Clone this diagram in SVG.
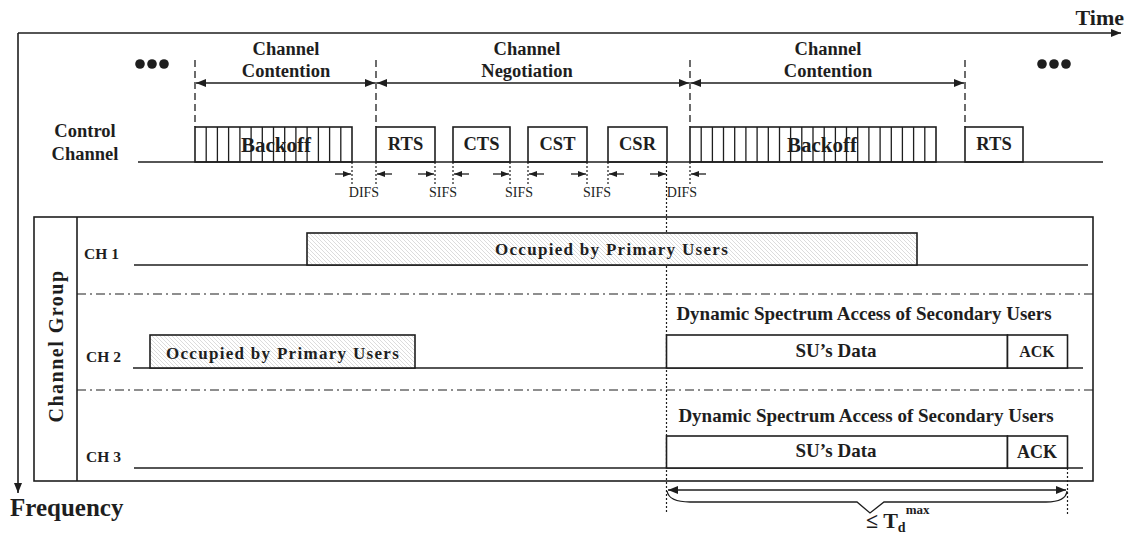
<svg xmlns="http://www.w3.org/2000/svg" width="1130" height="543" viewBox="0 0 1130 543">
<style>
text{font-family:"Liberation Serif","Times New Roman",serif;fill:#1e1e1e}
.b{font-weight:bold}
.ln{stroke:#1e1e1e;stroke-width:1.6;fill:none}
.box{stroke:#1e1e1e;stroke-width:1.6;fill:#fff}
.hb{stroke:#1e1e1e;stroke-width:1.6;fill:url(#hatch)}
.dash{stroke:#1e1e1e;stroke-width:1.3;stroke-dasharray:7 4;fill:none}
.dot{stroke:#1e1e1e;stroke-width:1.2;stroke-dasharray:2 2;fill:none}
.dd{stroke:#1e1e1e;stroke-width:1.2;stroke-dasharray:9 4 2 4;fill:none}
.st{stroke:#1e1e1e;stroke-width:1.3;fill:none}
.ar{stroke:#1e1e1e;stroke-width:1.3;fill:none}
</style>
<defs>
<pattern id="hatch" width="4" height="4" patternUnits="userSpaceOnUse">
<rect width="4" height="4" fill="#fff"/>
<path d="M0,0 L4,4 M-1,3 L1,5 M3,-1 L5,1" stroke="#c4c4c4" stroke-width="0.6"/>
</pattern>
<marker id="ah" viewBox="0 0 10 8" refX="10" refY="4" markerWidth="10" markerHeight="8" markerUnits="userSpaceOnUse" orient="auto-start-reverse">
<path d="M0,0 L10,4 L0,8 z" fill="#1e1e1e"/>
</marker>
<marker id="as" viewBox="0 0 8 6" refX="8" refY="3" markerWidth="8" markerHeight="6" markerUnits="userSpaceOnUse" orient="auto-start-reverse">
<path d="M0,0 L8,3 L0,6 z" fill="#1e1e1e"/>
</marker>
</defs>
<rect width="1130" height="543" fill="#fff"/>

<g id="axes">
<path class="ln" d="M18,33 L1121,33" marker-end="url(#ah)"/>
<path class="ln" d="M18,33 L18,493" marker-end="url(#ah)"/>
<text class="b" x="1124" y="25" font-size="22" text-anchor="end">Time</text>
<text class="b" x="10" y="516" font-size="25">Frequency</text>
</g>

<g id="dots">
<circle cx="140" cy="64" r="4.8" fill="#1e1e1e"/>
<circle cx="152" cy="64" r="4.8" fill="#1e1e1e"/>
<circle cx="164" cy="64" r="4.8" fill="#1e1e1e"/>
<circle cx="1042" cy="64" r="4.8" fill="#1e1e1e"/>
<circle cx="1054" cy="64" r="4.8" fill="#1e1e1e"/>
<circle cx="1066" cy="64" r="4.8" fill="#1e1e1e"/>
</g>

<g id="phase-labels">
<text class="b" x="286" y="55" font-size="18.5" text-anchor="middle">Channel</text>
<text class="b" x="286" y="77" font-size="18.5" text-anchor="middle">Contention</text>
<text class="b" x="527" y="55" font-size="18.5" text-anchor="middle">Channel</text>
<text class="b" x="527" y="77" font-size="18.5" text-anchor="middle">Negotiation</text>
<text class="b" x="828" y="55" font-size="18.5" text-anchor="middle">Channel</text>
<text class="b" x="828" y="77" font-size="18.5" text-anchor="middle">Contention</text>
</g>

<g id="control-label">
<text class="b" x="85" y="137" font-size="18.5" text-anchor="middle">Control</text>
<text class="b" x="85" y="160" font-size="18.5" text-anchor="middle">Channel</text>
</g>

<g id="backoff1">
<rect class="box" x="195" y="127" width="157" height="35"/>
<text class="b" x="276" y="152" font-size="21" text-anchor="middle">Backoff</text>
<path class="st" d="M206.2,127V162M217.4,127V162M228.6,127V162M239.9,127V162M251.1,127V162M262.3,127V162M273.5,127V162M284.7,127V162M295.9,127V162M307.1,127V162M318.4,127V162M329.6,127V162M340.8,127V162"/>
</g>
<g id="rts1">
<rect class="box" x="376" y="127" width="59" height="35"/>
<text class="b" x="405.5" y="150" font-size="18.5" text-anchor="middle">RTS</text>
</g>
<g id="cts">
<rect class="box" x="453" y="127" width="57" height="35"/>
<text class="b" x="481.5" y="150" font-size="18.5" text-anchor="middle">CTS</text>
</g>
<g id="cst">
<rect class="box" x="528" y="127" width="59" height="35"/>
<text class="b" x="557.5" y="150" font-size="18.5" text-anchor="middle">CST</text>
</g>
<g id="csr">
<rect class="box" x="608" y="127" width="59" height="35"/>
<text class="b" x="637.5" y="150" font-size="18.5" text-anchor="middle">CSR</text>
</g>
<g id="backoff2">
<rect class="box" x="690" y="127" width="246" height="35"/>
<text class="b" x="822" y="152" font-size="21" text-anchor="middle">Backoff</text>
<path class="st" d="M701.2,127V162M712.4,127V162M723.5,127V162M734.7,127V162M745.9,127V162M757.1,127V162M768.3,127V162M779.5,127V162M790.6,127V162M801.8,127V162M813,127V162M824.2,127V162M835.4,127V162M846.5,127V162M857.7,127V162M868.9,127V162M880.1,127V162M891.3,127V162M902.4,127V162M913.6,127V162M924.8,127V162"/>
</g>
<g id="rts2">
<rect class="box" x="965" y="127" width="58" height="35"/>
<text class="b" x="994" y="150" font-size="18.5" text-anchor="middle">RTS</text>
</g>

<g id="connectors">
<path class="ln" d="M138,162 L1103,162"/>
<path class="dash" d="M195,60V127M376,60V127M690,60V127M965,60V127"/>
<path class="ar" d="M196,83H375" marker-start="url(#ah)" marker-end="url(#ah)"/>
<path class="ar" d="M377,83H689" marker-start="url(#ah)" marker-end="url(#ah)"/>
<path class="ar" d="M691,83H964" marker-start="url(#ah)" marker-end="url(#ah)"/>
<path class="dot" d="M352,162V184M376,162V184M435,162V184M453,162V184M510,162V184M528,162V184M587,162V184M608,162V184M690,162V184"/>
<path class="dot" d="M666.5,162V514M1067.5,468V514"/>
<path class="ar" d="M335,174H351" marker-end="url(#as)"/>
<path class="ar" d="M392,174H377" marker-end="url(#as)"/>
<path class="ar" d="M418,174H434" marker-end="url(#as)"/>
<path class="ar" d="M469,174H454" marker-end="url(#as)"/>
<path class="ar" d="M493,174H509" marker-end="url(#as)"/>
<path class="ar" d="M544,174H529" marker-end="url(#as)"/>
<path class="ar" d="M571,174H586" marker-end="url(#as)"/>
<path class="ar" d="M624,174H609" marker-end="url(#as)"/>
<path class="ar" d="M650,174H666" marker-end="url(#as)"/>
<path class="ar" d="M706,174H691" marker-end="url(#as)"/>
<path class="ar" d="M668,490H1066" marker-start="url(#ah)" marker-end="url(#ah)"/>
<path class="st" d="M667,491 Q669,502 690,502 L857,502 L870,513 L884,502 L1046,502 Q1066,502 1067,491"/>
</g>

<g id="ifs-labels">
<text x="364" y="197" font-size="14" text-anchor="middle">DIFS</text>
<text x="443" y="197" font-size="14" text-anchor="middle">SIFS</text>
<text x="519" y="197" font-size="14" text-anchor="middle">SIFS</text>
<text x="597" y="197" font-size="14" text-anchor="middle">SIFS</text>
<text x="682" y="197" font-size="14" text-anchor="middle">DIFS</text>
</g>

<g id="channel-group">
<rect class="ln" x="34" y="217" width="1059" height="264"/>
<path class="ln" d="M77,217V481"/>
<text class="b" transform="translate(63,346) rotate(-90)" font-size="20" letter-spacing="1.5" text-anchor="middle">Channel Group</text>
<path class="dd" d="M77,294H1093M77,390H1093"/>
</g>

<g id="ch1">
<text class="b" x="84" y="259" font-size="15.5">CH 1</text>
<path class="ln" d="M134,265H1088"/>
<rect class="hb" x="307" y="233" width="610" height="32"/>
<text class="b" x="612" y="255" font-size="17" letter-spacing="1.3" text-anchor="middle">Occupied by Primary Users</text>
</g>

<g id="ch2">
<text class="b" x="86" y="362" font-size="15.5">CH 2</text>
<path class="ln" d="M133,368H1083"/>
<rect class="hb" x="150" y="335" width="265" height="33"/>
<text class="b" x="283" y="359" font-size="17" letter-spacing="1.3" text-anchor="middle">Occupied by Primary Users</text>
<text class="b" x="864" y="320" font-size="19" text-anchor="middle">Dynamic Spectrum Access of Secondary Users</text>
<rect class="box" x="666.5" y="335" width="341" height="33"/>
<text class="b" x="836" y="357" font-size="19" text-anchor="middle">SU’s Data</text>
<rect class="box" x="1007.5" y="335" width="60" height="33"/>
<text class="b" x="1037" y="357" font-size="16" text-anchor="middle">ACK</text>
</g>

<g id="ch3">
<text class="b" x="86" y="462" font-size="15.5">CH 3</text>
<path class="ln" d="M134,468H1083"/>
<text class="b" x="866" y="422" font-size="19" text-anchor="middle">Dynamic Spectrum Access of Secondary Users</text>
<rect class="box" x="666.5" y="436" width="341" height="32"/>
<text class="b" x="836" y="457" font-size="19" text-anchor="middle">SU’s Data</text>
<rect class="box" x="1007.5" y="436" width="60" height="32"/>
<text class="b" x="1037" y="458" font-size="18" text-anchor="middle">ACK</text>
</g>

<g id="td-label">
<text class="b" x="866" y="528" font-size="22">≤ T<tspan font-size="14" dy="4">d</tspan><tspan font-size="13" dy="-18">max</tspan></text>
</g>
</svg>
